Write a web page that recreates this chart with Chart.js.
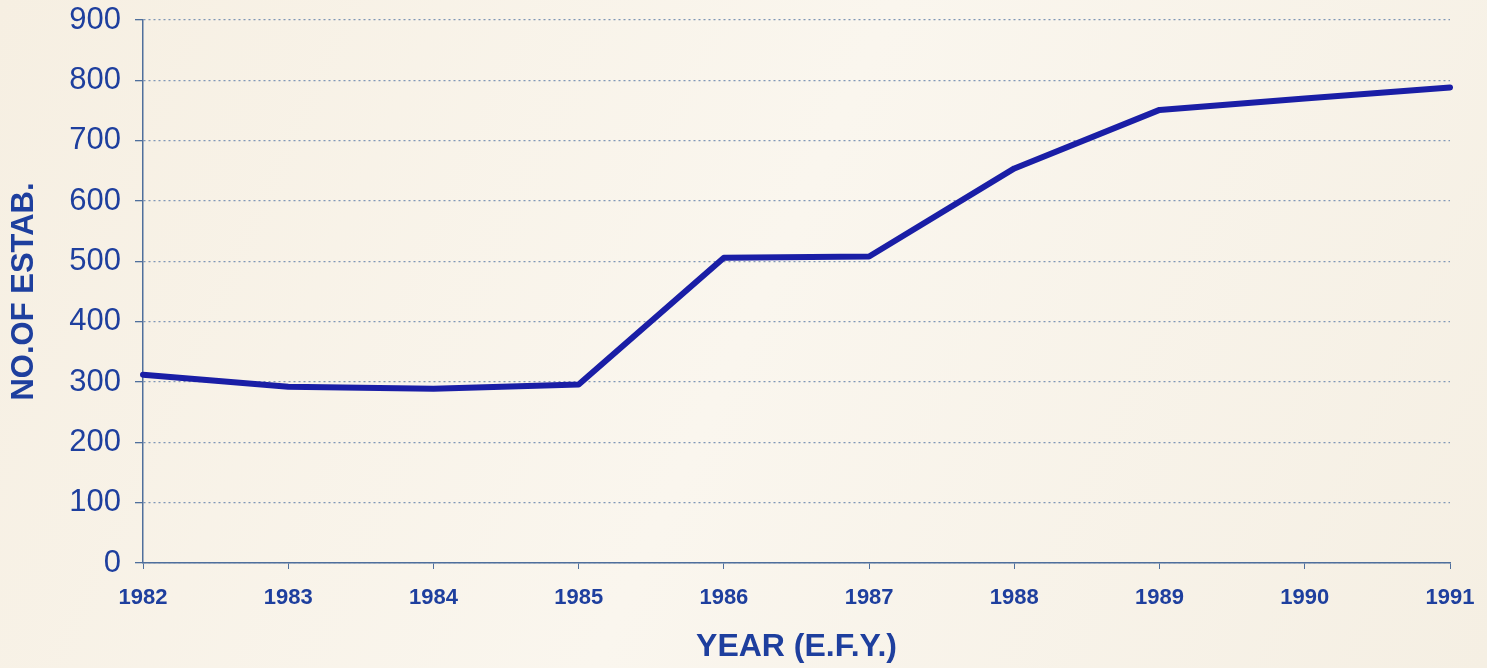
<!DOCTYPE html>
<html>
<head>
<meta charset="utf-8">
<script src="https://cdn.jsdelivr.net/npm/chart.js@4"></script>
<style>
  html, body { margin: 0; padding: 0; background: #f7f2e8; }
  #wrap { width: 1487px; height: 668px; position: relative; }
</style>
</head>
<body>
<div id="wrap"><canvas id="estabChart"></canvas></div>
<script>
// chart data
const years = ['1982', '1983', '1984', '1985', '1986', '1987', '1988', '1989', '1990', '1991'];
const estabCounts = [312, 292, 289, 296, 506, 508, 654, 751, 770, 788];
const yTicks = [0, 100, 200, 300, 400, 500, 600, 700, 800, 900];

const blueText = '#1e3f9e';
const axisColor = '#4f6f9c';

// paper-ish background behind everything
const paperBg = {
    id: 'paperBg',
    beforeDraw(chart) {
        const { ctx, width, height } = chart;
        ctx.save();
        const g = ctx.createLinearGradient(0, 0, width, height);
        g.addColorStop(0, '#f6efe2');
        g.addColorStop(0.5, '#faf6ee');
        g.addColorStop(1, '#f5efe3');
        ctx.fillStyle = g;
        ctx.fillRect(0, 0, width, height);
        ctx.restore();
    }
};

const ctx = document.getElementById('estabChart').getContext('2d');
new Chart(ctx, {
    type: 'line',
    data: {
        labels: years,
        datasets: [{
            label: 'No. of establishments',
            data: estabCounts,
            borderColor: '#1a1ea6',
            borderWidth: 6,
            borderCapStyle: 'round',
            borderJoinStyle: 'round',
            pointRadius: 0,
            fill: false,
            tension: 0
        }]
    },
    options: {
        responsive: true,
        maintainAspectRatio: false,
        animation: false,
        layout: { padding: { top: 20, right: 37, bottom: 0, left: 0 } },
        plugins: {
            legend: { display: false },
            tooltip: { enabled: false }
        },
        scales: {
            x: {
                offset: false,
                border: { display: true, color: axisColor, width: 1.5 },
                grid: { drawOnChartArea: false, drawTicks: true, tickLength: 6, color: axisColor },
                ticks: {
                    color: blueText,
                    padding: 16,
                    maxRotation: 0,
                    autoSkip: false,
                    font: { family: 'Liberation Sans, Arial, sans-serif', size: 22, weight: 'bold' }
                },
                title: {
                    display: true,
                    text: 'YEAR (E.F.Y.)',
                    color: blueText,
                    padding: { top: 12, bottom: 2 },
                    font: { family: 'Liberation Sans, Arial, sans-serif', size: 32, weight: 'bold' }
                },
                afterFit(scale) {
                    scale.height = 105;
                    scale.paddingLeft = 0;
                    scale.paddingRight = 0;
                }
            },
            y: {
                min: 0,
                max: 900,
                afterBuildTicks(scale) { scale.ticks = yTicks.map(v => ({ value: v })); },
                border: { display: true, color: axisColor, width: 1.5, dash: [2, 3] },
                grid: {
                    color: '#7f96b6',
                    lineWidth: 1.3,
                    tickLength: 8,
                    tickColor: axisColor,
                    tickBorderDash: []
                },
                ticks: {
                    color: blueText,
                    padding: 14,
                    font: { family: 'Liberation Sans, Arial, sans-serif', size: 31 }
                },
                title: {
                    display: true,
                    text: 'NO.OF ESTAB.',
                    color: blueText,
                    padding: { top: 6, bottom: 2 },
                    font: { family: 'Liberation Sans, Arial, sans-serif', size: 31, weight: 'bold' }
                },
                afterFit(scale) {
                    scale.width = 143;
                    scale.paddingTop = 0;
                    scale.paddingBottom = 0;
                }
            }
        }
    },
    plugins: [paperBg]
});
</script>
</body>
</html>
